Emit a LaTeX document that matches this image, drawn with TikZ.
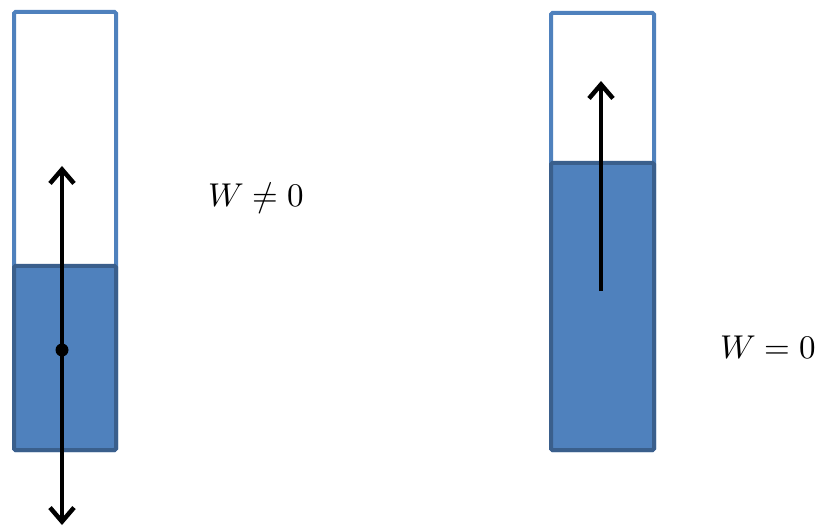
\documentclass[tikz,border=0pt]{standalone}
\usepackage{unicode-math}
\setmathfont{Latin Modern Math}
\usetikzlibrary{arrows.meta}
\definecolor{tubeline}{HTML}{4F81BD}
\definecolor{liquid}{HTML}{4F81BD}
\definecolor{liquidline}{HTML}{3A5F8C}
\tikzset{
  tube/.style={draw=tubeline,line width=4pt,fill=white,rounded corners=1.5pt},
  fluid/.style={draw=liquidline,fill=liquid,line width=4pt,rounded corners=1.5pt},
  force/.style={line width=4pt,black,line cap=butt},
  tip/.tip={Straight Barb[length=14pt,width=24pt,line width=4.5pt]},
  lab/.style={anchor=base west,inner sep=0pt,font=\fontsize{33}{40}\selectfont}
}
\begin{document}
\begin{tikzpicture}[x=1pt,y=-1pt]
\useasboundingbox (0,0) rectangle (816,529);
% left tube
\draw[tube] (14,12) rectangle (116,450);
\draw[fluid] (14,266) rectangle (116,450);
\coordinate (lc) at (62,350);
\coordinate (ltop) at (62,166);
\coordinate (lbot) at (62,525);
\draw[force,tip-tip] (ltop) -- (lbot);
\fill (lc) circle (6.5);
% right tube
\draw[tube] (551,13) rectangle (654,450);
\draw[fluid] (551,163) rectangle (654,450);
\coordinate (rtail) at (601,291);
\coordinate (rtip) at (601,81);
\draw[force,-tip] (rtail) -- (rtip);
% labels
\node[lab] (w1) at (208,207) {$W\neq 0$};
\node[lab] (w2) at (720,358) {$W=0$};
\end{tikzpicture}
\end{document}
